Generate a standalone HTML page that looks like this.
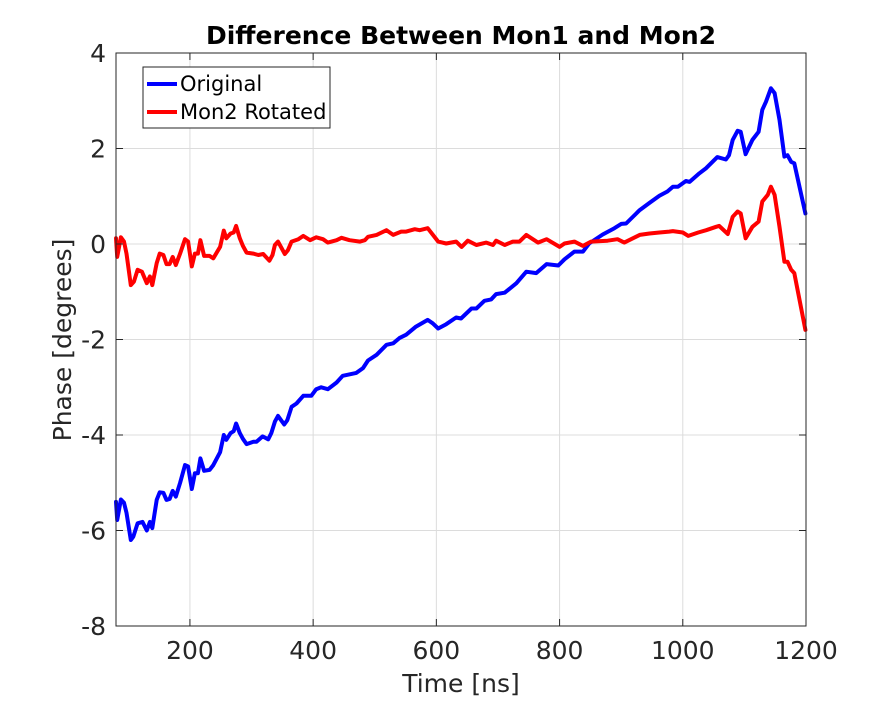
<!DOCTYPE html>
<html><head><meta charset="utf-8"><style>
body{margin:0;background:#fff;}
svg text{font-family:"DejaVu Sans","Liberation Sans",sans-serif;fill:#262626;}
</style></head><body>
<svg id="chart" width="891" height="702" viewBox="0 0 891 702" xmlns="http://www.w3.org/2000/svg">
<rect width="891" height="702" fill="#fff"/>
<g id="grid"></g>
<g id="series"></g>
<g id="axes"></g>
<text x="461" y="44" text-anchor="middle" font-size="25" font-weight="bold" style="fill:#000">Difference Between Mon1 and Mon2</text>
<text x="461" y="692" text-anchor="middle" font-size="25">Time [ns]</text>
<text transform="translate(71,340) rotate(-90)" text-anchor="middle" font-size="25">Phase [degrees]</text>
<g>
<rect x="143" y="67" width="187" height="61" fill="#fff" stroke="#262626" stroke-width="1"/>
<line x1="147" y1="84" x2="177" y2="84" stroke="#0000ff" stroke-width="4"/>
<text x="180" y="91" font-size="21" style="fill:#000">Original</text>
<line x1="147" y1="112" x2="177" y2="112" stroke="#ff0000" stroke-width="4"/>
<text x="180" y="119" font-size="21" style="fill:#000">Mon2 Rotated</text>
</g>
</svg>
<script>
const xTicks=[200,400,600,800,1000,1200];
const yTicks=[4,2,0,-2,-4,-6,-8];
const origX=[80,82,88,93,97,104,108,115,123,130,135,139,146,151,157,162,167,172,177,184,192,197,203,208,213,217,223,232,238,249,255,259,266,271,275,281,286,292,303,308,318,327,332,338,343,353,358,365,373,384,397,405,413,424,438,448,470,481,489,503,519,530,540,551,567,586,594,603,616,632,640,657,665,678,689,697,711,730,746,762,779,798,808,824,838,848,870,889,900,908,930,946,962,975,984,992,1005,1011,1027,1038,1048,1056,1070,1075,1081,1089,1094,1102,1113,1123,1129,1135,1143,1149,1157,1165,1170,1176,1181,1199];
const origY=[-5.40,-5.78,-5.35,-5.42,-5.63,-6.2,-6.13,-5.85,-5.82,-6.0,-5.82,-5.95,-5.36,-5.2,-5.21,-5.36,-5.34,-5.17,-5.29,-5.0,-4.63,-4.66,-5.13,-4.8,-4.8,-4.49,-4.75,-4.73,-4.63,-4.36,-4.0,-4.1,-3.96,-3.92,-3.76,-3.96,-4.08,-4.19,-4.14,-4.14,-4.03,-4.09,-3.96,-3.72,-3.6,-3.78,-3.69,-3.41,-3.34,-3.18,-3.18,-3.04,-3.0,-3.04,-2.9,-2.76,-2.7,-2.6,-2.44,-2.32,-2.11,-2.08,-1.97,-1.9,-1.73,-1.59,-1.66,-1.77,-1.68,-1.54,-1.56,-1.35,-1.35,-1.19,-1.16,-1.05,-1.02,-0.82,-0.58,-0.61,-0.42,-0.45,-0.32,-0.16,-0.16,0.01,0.2,0.33,0.42,0.43,0.71,0.86,1.01,1.10,1.2,1.2,1.32,1.3,1.48,1.59,1.72,1.82,1.77,1.86,2.18,2.37,2.35,1.88,2.18,2.35,2.81,2.98,3.26,3.16,2.6,1.83,1.86,1.72,1.69,0.64];
const rotX=[80,82,88,93,97,104,109,115,122,130,135,139,146,151,157,162,167,172,177,184,192,197,203,208,213,217,223,232,238,249,255,259,266,271,275,281,286,292,303,311,319,329,334,338,343,354,359,365,376,384,395,405,416,424,438,446,459,476,484,489,503,519,530,543,551,565,573,586,603,616,632,641,651,665,681,692,697,711,724,735,746,765,779,800,808,824,838,851,878,894,905,930,946,962,978,984,1000,1009,1025,1038,1054,1059,1073,1081,1089,1094,1102,1113,1123,1129,1138,1143,1149,1157,1165,1170,1176,1181,1199];
const rotY=[0.12,-0.27,0.14,0.05,-0.2,-0.86,-0.79,-0.54,-0.58,-0.82,-0.68,-0.86,-0.4,-0.2,-0.23,-0.42,-0.42,-0.27,-0.44,-0.2,0.1,0.05,-0.47,-0.2,-0.2,0.08,-0.25,-0.25,-0.3,-0.06,0.28,0.12,0.22,0.24,0.38,0.12,-0.04,-0.18,-0.2,-0.23,-0.21,-0.35,-0.23,-0.02,0.05,-0.21,-0.13,0.05,0.1,0.17,0.08,0.14,0.1,0.03,0.08,0.13,0.08,0.05,0.08,0.15,0.19,0.29,0.19,0.26,0.26,0.31,0.29,0.33,0.05,0.01,0.05,-0.06,0.07,-0.02,0.03,-0.02,0.07,-0.02,0.05,0.05,0.19,0.03,0.1,-0.06,0.01,0.05,-0.04,0.05,0.07,0.1,0.03,0.19,0.22,0.24,0.26,0.27,0.24,0.17,0.24,0.29,0.36,0.38,0.21,0.57,0.68,0.64,0.12,0.36,0.47,0.89,1.03,1.2,1.03,0.36,-0.37,-0.37,-0.54,-0.61,-1.8];

const L=116,R=806,T=53,B=626,XMIN=80,XMAX=1200,YMIN=-8,YMAX=4;
const sx=v=>L+(v-XMIN)/(XMAX-XMIN)*(R-L);
const sy=v=>B-(v-YMIN)/(YMAX-YMIN)*(B-T);
const NS="http://www.w3.org/2000/svg";
function mk(tag,attrs,parent){const e=document.createElementNS(NS,tag);for(const k in attrs)e.setAttribute(k,attrs[k]);parent.appendChild(e);return e;}
const grid=document.getElementById('grid'),axes=document.getElementById('axes'),series=document.getElementById('series');
xTicks.forEach(t=>{
  const g=mk('line',{x1:sx(t),x2:sx(t),y1:T,y2:B,stroke:'#dcdcdc','stroke-width':1},grid);
  
  
  const a=mk('line',{x1:sx(t),x2:sx(t),y1:B,y2:B-7,stroke:'#262626','stroke-width':1},axes);
  
  
  const b=mk('line',{x1:sx(t),x2:sx(t),y1:T,y2:T+7,stroke:'#262626','stroke-width':1},axes);
  
  
  const tx=mk('text',{x:sx(t),y:B+33,'text-anchor':'middle','font-size':25},axes);
  tx.textContent=t;
  
  
});
yTicks.forEach(t=>{
  const g=mk('line',{x1:L,x2:R,y1:sy(t),y2:sy(t),stroke:'#dcdcdc','stroke-width':1},grid);
  
  
  const a=mk('line',{x1:L,x2:L+7,y1:sy(t),y2:sy(t),stroke:'#262626','stroke-width':1},axes);
  
  
  const b=mk('line',{x1:R,x2:R-7,y1:sy(t),y2:sy(t),stroke:'#262626','stroke-width':1},axes);
  
  
  const tx=mk('text',{x:L-10,y:sy(t)+9,'text-anchor':'end','font-size':25},axes);
  tx.textContent=t;
  
  
});
const box=mk('rect',{x:L,y:T,width:R-L,height:B-T,fill:'none',stroke:'#262626','stroke-width':1},axes);


function line(xs,ys,color,name){
  const d=xs.map((x,i)=>(i?'L':'M')+sx(x).toFixed(1)+','+sy(ys[i]).toFixed(1)).join('');
  const p=mk('path',{d:d,fill:'none',stroke:color,'stroke-width':4,'stroke-linejoin':'round','stroke-linecap':'round'},series);
  
  
}
line(origX,origY,'#0000ff','original-line');
line(rotX,rotY,'#ff0000','mon2-rotated-line');
</script>
</body></html>
